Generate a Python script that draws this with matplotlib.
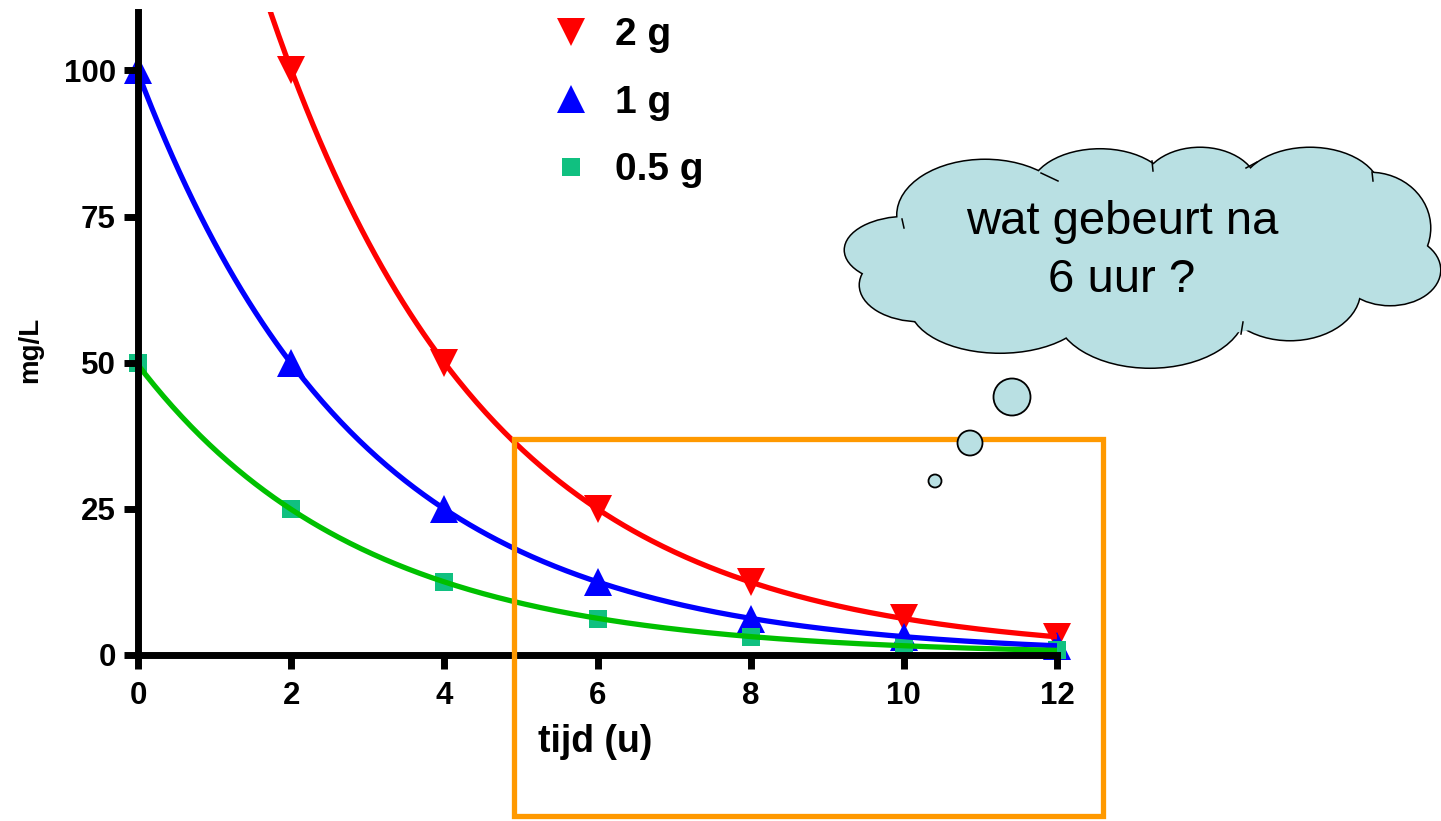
import numpy as np
import matplotlib.pyplot as plt
from matplotlib.patches import Ellipse, Rectangle
from matplotlib.lines import Line2D

plt.rcParams['font.family'] = ['Liberation Sans', 'DejaVu Sans']

# data: concentration (mg/L) vs time (h) for three doses
t_2g = [2, 4, 6, 8, 10, 12]
c_2g = [100, 50, 25, 12.5, 6.25, 3.1]
t_1g = [0, 2, 4, 6, 8, 10, 12]
c_1g = [100, 50, 25, 12.5, 6.2, 3.1, 1.6]
t_05g = [0, 2, 4, 6, 8, 10, 12]
c_05g = [50, 25, 12.5, 6.2, 3.1, 1.6, 0.8]
labels = ['2 g', '1 g', '0.5 g']

xticks = [0, 2, 4, 6, 8, 10, 12]
yticks = [0, 25, 50, 75, 100]

fig = plt.figure(figsize=(14.41, 8.21), dpi=100)
ax = fig.add_axes([138/1441, 1-655/821, 919/1441, 643/821])

series = [
    (t_2g, c_2g, 'v', '#FF0000', '#FF0000', 20),
    (t_1g, c_1g, '^', '#0000FF', '#0000FF', 20),
    (t_05g, c_05g, 's', '#00C000', '#10C080', 12.5),
]
tt = np.linspace(0, 12, 400)
handles = []
for (t, c, mk, lc, mc, ms), lab in zip(series, labels):
    # exponential fit through the points (log-linear)
    k = np.polyfit(t, np.log(c), 1)
    ax.plot(tt, np.exp(np.polyval(k, tt)), color=lc, lw=3.8, zorder=2,
            solid_capstyle='butt')
    ax.plot(t, c, linestyle='none', marker=mk, color=mc, ms=ms,
            markeredgewidth=0, zorder=1.5, clip_on=False)
    handles.append(Line2D([], [], linestyle='none', marker=mk, color=mc,
                          ms=ms, markeredgewidth=0, label=lab))

ax.set_xlim(0, 12)
ax.set_ylim(0, 110)
ax.set_xticks(xticks)
ax.set_yticks(yticks)
for s in ['top', 'right']:
    ax.spines[s].set_visible(False)
for s in ['left', 'bottom']:
    ax.spines[s].set_linewidth(5)
ax.tick_params(width=5, length=10, direction='out', labelsize=22.5)
ax.tick_params(axis='x', pad=9)
ax.tick_params(axis='y', pad=6)
for lbl in ax.get_xticklabels() + ax.get_yticklabels():
    lbl.set_fontweight('bold')

ax.set_xlabel('tijd (u)', fontsize=27, fontweight='bold')
ax.xaxis.set_label_coords(0.498, -0.108)
ax.set_ylabel('mg/L', fontsize=20, fontweight='bold')
ax.yaxis.set_label_coords(-0.103, 0.475)

leg = ax.legend(handles=handles, loc='upper left', frameon=False,
                bbox_to_anchor=(536/1441, 1+2/821),
                bbox_transform=fig.transFigure, borderpad=0,
                handlelength=0.8, handletextpad=0.73, labelspacing=0.81,
                prop={'size': 28, 'weight': 'bold'}, numpoints=1)

# overlay in pixel coordinates for the annotations
ov = fig.add_axes([0, 0, 1, 1], zorder=5)
ov.set_xlim(0, 1441)
ov.set_ylim(821, 0)
ov.axis('off')
ov.patch.set_alpha(0)

ov.add_patch(Rectangle((514, 439), 589, 377, fill=False,
                       edgecolor='#FF9900', lw=3.8, zorder=1))

cloud_fill = '#B9E0E3'
lobes = [
    (985, 215, 175, 110),
    (1100, 192, 140, 85),
    (1200, 188, 115, 80),
    (1310, 192, 140, 88),
    (1370, 228, 120, 110),
    (1390, 270, 100, 70),
    (1290, 290, 140, 100),
    (1150, 310, 190, 115),
    (1000, 305, 180, 95),
    (920, 285, 120, 72),
    (907, 250, 124, 66),
]
for cx, cy, w, h in lobes:
    ov.add_patch(Ellipse((cx, cy), w, h, facecolor='black',
                         edgecolor='black', lw=2.2, zorder=2))
for cx, cy, w, h in lobes:
    ov.add_patch(Ellipse((cx, cy), w, h, facecolor=cloud_fill,
                         edgecolor='none', zorder=3))
ov.add_patch(Ellipse((1140, 255), 470, 170, facecolor=cloud_fill,
                     edgecolor='none', zorder=3))

# small inner strokes where lobes meet
strokes = [
    ((1041, 173), (1058, 181)),
    ((1152, 161), (1153, 171)),
    ((1246, 168), (1257, 162)),
    ((1372, 172), (1373, 181)),
    ((1243, 322), (1241, 334)),
    ((902, 219), (904, 228)),
]
for (x0, y0), (x1, y1) in strokes:
    ov.plot([x0, x1], [y0, y1], color='black', lw=1.1, zorder=3.5)

for cx, cy, r in [(1012, 397, 18.5), (970, 443, 12.5), (935, 481, 6.5)]:
    ov.add_patch(Ellipse((cx, cy), 2*r, 2*r, facecolor=cloud_fill,
                         edgecolor='black', lw=1.3, zorder=4))

ov.text(1122, 251, 'wat gebeurt na\n6 uur ?', ha='center', va='center',
        fontsize=34, linespacing=1.4, zorder=5)

fig.savefig('out.png', dpi=100)
